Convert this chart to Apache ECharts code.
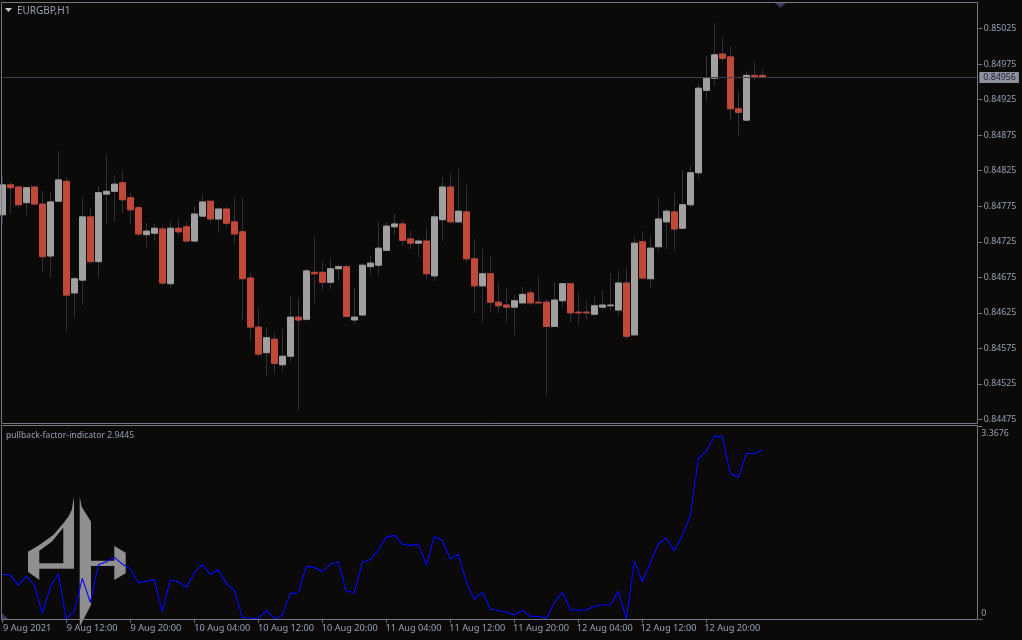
<!DOCTYPE html>
<html>
<head>
<meta charset="utf-8">
<style>html,body{margin:0;padding:0;background:#0c0a09}#c{width:1022px;height:640px}</style>
<script src="https://cdn.jsdelivr.net/npm/echarts@6/dist/echarts.min.js"></script>
</head>
<body>
<div id="c"></div>
<script>
const opens = [.84763,.84805,.84802,.84780,.84802,.84778,.84705,.84782,.84810,.84653,.84671,.84760,.84697,.84792,.84796,.84808,.84787,.84773,.84735,.84737,.84743,.84666,.84744,.84746,.84726,.84761,.84782,.84757,.84771,.84753,.84739,.84674,.84605,.84569,.84588,.84552,.84564,.84619,.84616,.84682,.84682,.84668,.84687,.84690,.84615,.84622,.84690,.84692,.84713,.84746,.84750,.84729,.84723,.84726,.84677,.84756,.84802,.84753,.84767,.84701,.84663,.84680,.84640,.84636,.84633,.84639,.84653,.84640,.84640,.84606,.84642,.84666,.84626,.84626,.84623,.84633,.84635,.84629,.84667,.84594,.84725,.84673,.84718,.84753,.84767,.84744,.84777,.84822,.84938,.84955,.84989,.84985,.84912,.84896,.84959,.84959];
const closes = [.84805,.84801,.84777,.84801,.84778,.84704,.84781,.84812,.84650,.84673,.84760,.84697,.84794,.84796,.84806,.84784,.84770,.84736,.84740,.84744,.84667,.84744,.84739,.84726,.84764,.84781,.84757,.84771,.84751,.84736,.84673,.84605,.84567,.84590,.84554,.84564,.84619,.84615,.84684,.84680,.84668,.84687,.84690,.84620,.84619,.84692,.84695,.84716,.84747,.84750,.84727,.84723,.84726,.84680,.84760,.84802,.84753,.84768,.84701,.84663,.84680,.84640,.84635,.84633,.84642,.84651,.84639,.84639,.84606,.84643,.84666,.84625,.84625,.84625,.84635,.84636,.84636,.84667,.84592,.84723,.84674,.84716,.84757,.84768,.84743,.84777,.84822,.84941,.84955,.84988,.84983,.84912,.84907,.84959,.84957,.84956];
const lows = [.84750,.84765,.84773,.84763,.84777,.84682,.84675,.84782,.84598,.84618,.84636,.84695,.84674,.84750,.84754,.84765,.84751,.84732,.84718,.84726,.84664,.84660,.84735,.84725,.84726,.84761,.84751,.84737,.84746,.84723,.84616,.84587,.84564,.84536,.84539,.84542,.84556,.84488,.84613,.84639,.84656,.84658,.84670,.84620,.84609,.84622,.84678,.84677,.84712,.84736,.84719,.84715,.84703,.84673,.84670,.84726,.84751,.84751,.84696,.84625,.84611,.84626,.84625,.84611,.84594,.84636,.84635,.84636,.84508,.84606,.84635,.84612,.84609,.84616,.84623,.84628,.84628,.84623,.84587,.84594,.84673,.84660,.84711,.84715,.84712,.84743,.84774,.84813,.84924,.84945,.84979,.84896,.84874,.84896,.84952,.84955];
const highs = [.84817,.84809,.84803,.84801,.84802,.84796,.84795,.84853,.84816,.84675,.84788,.84772,.84803,.84847,.84819,.84825,.84794,.84775,.84751,.84750,.84748,.84754,.84757,.84753,.84775,.84792,.84782,.84774,.84775,.84788,.84787,.84681,.84632,.84605,.84598,.84602,.84649,.84646,.84687,.84733,.84698,.84702,.84691,.84694,.84660,.84695,.84705,.84753,.84753,.84764,.84756,.84741,.84730,.84743,.84767,.84816,.84822,.84827,.84805,.84729,.84715,.84705,.84667,.84660,.84650,.84661,.84659,.84677,.84644,.84668,.84666,.84667,.84654,.84643,.84647,.84656,.84681,.84685,.84688,.84733,.84740,.84733,.84787,.84771,.84794,.84826,.84832,.84947,.84986,.85033,.85013,.85000,.84937,.84965,.84979,.84968];
const indicator = [0.776,0.764,0.584,0.747,0.590,0.095,0.561,0.788,0,0.130,0.706,0.287,0.945,0.997,1.073,0.956,0.869,0.631,0.654,0.683,0.124,0.677,0.648,0.549,0.805,0.951,0.770,0.857,0.619,0.491,0.026,0.014,0,0.148,0,0.060,0.444,0.456,0.916,0.898,0.828,0.956,0.991,0.485,0.456,0.991,1.032,1.201,1.427,1.457,1.305,1.282,1.305,0.939,1.439,1.369,1.044,1.125,0.642,0.340,0.462,0.171,0.142,0.119,0.066,0.148,0.043,0.043,0.008,0.282,0.462,0.154,0.154,0.154,0.218,0.241,0.241,0.479,0,1.003,0.648,0.980,1.311,1.410,1.189,1.457,1.800,2.800,2.928,3.190,3.173,2.544,2.469,2.888,2.888,2.9445];
const timeLabels = ["9 Aug 2021","9 Aug 12:00","9 Aug 20:00","10 Aug 04:00","10 Aug 12:00","10 Aug 20:00","11 Aug 04:00","11 Aug 12:00","11 Aug 20:00","12 Aug 04:00","12 Aug 12:00","12 Aug 20:00"];
const slotCount = 123, labelEvery = 8;
const categories = Array.from({length: slotCount}, (_, i) => (i % labelEvery === 0 && timeLabels[i / labelEvery]) || "");
const symbolText = "EURGBP,H1", indicatorText = "pullback-factor-indicator 2.9445";
const lastPrice = 0.84956, indMax = 3.3676;

const BG = "#0c0a09", FRAME = "#777784", TXT = "#93a0b5", UP = "#a0a0a0", DOWN = "#c0493a", WICK = "#2e3040", LOGO = "#8f8f8f";
const FONT = "Noto Sans";
const chart = echarts.init(document.getElementById("c"), null, {renderer: "canvas"});
const isTick = (i) => i % labelEvery === 0 && !!timeLabels[i / labelEvery];
chart.setOption({
  animation: false,
  backgroundColor: BG,
  textStyle: {fontFamily: FONT},
  grid: [
    {left: 2.33, right: 43.67, top: 3, height: 416.5},
    {left: 2.33, right: 43.67, top: 426, height: 192.8},
    {left: -0.67, right: 46.67, top: 426, height: 192.8}
  ],
  xAxis: [
    {type: "category", gridIndex: 0, data: categories, boundaryGap: false, axisLine: {show: false}, axisTick: {show: false}, axisLabel: {show: false}, splitLine: {show: false}},
    {type: "category", gridIndex: 1, data: categories, boundaryGap: false,
      axisLine: {show: false},
      axisTick: {show: true, length: 4, interval: (i) => isTick(i), lineStyle: {color: FRAME}},
      axisLabel: {show: false},
      splitLine: {show: false}},
    {type: "category", gridIndex: 2, data: categories, boundaryGap: false,
      axisLine: {show: false}, axisTick: {show: false}, splitLine: {show: false},
      axisLabel: {show: true, interval: (i) => isTick(i), align: "left", color: TXT, fontFamily: FONT, fontSize: 9.2, margin: 5.5, hideOverlap: false}}
  ],
  yAxis: [
    {type: "value", gridIndex: 0, position: "right", min: 0.84475, max: 0.850608, interval: 0.0005,
      axisLine: {show: false}, splitLine: {show: false},
      axisTick: {show: true, length: 4, lineStyle: {color: FRAME}, customValues: [0.84475,0.84525,0.84575,0.84625,0.84675,0.84725,0.84775,0.84825,0.84875,0.84925,0.84975,0.85025]},
      axisLabel: {color: TXT, fontFamily: FONT, fontSize: 8.8, margin: 5.5, padding: [2, 0, 0, 0], showMaxLabel: false, formatter: (v) => v.toFixed(5)}},
    {type: "value", gridIndex: 1, position: "right", min: 0, max: indMax, interval: indMax,
      axisLine: {show: false}, splitLine: {show: false},
      axisTick: {show: true, length: 4, lineStyle: {color: FRAME}},
      axisLabel: {color: TXT, fontFamily: FONT, fontSize: 8.8, margin: 3, padding: [3, 0, 1, 0], verticalAlignMinLabel: "bottom", verticalAlignMaxLabel: "top", formatter: (v) => v === 0 ? "0" : v.toFixed(4)}},
    {type: "value", gridIndex: 2, show: false}
  ],
  series: [
    {name: "wicks", type: "candlestick", xAxisIndex: 0, yAxisIndex: 0, barWidth: 6, silent: true, z: 2,
      itemStyle: {color: WICK, color0: WICK, borderColor: WICK, borderColor0: WICK, borderWidth: 1},
      data: opens.map((o, i) => [o, closes[i], lows[i], highs[i]])},
    {name: "EURGBP", type: "candlestick", xAxisIndex: 0, yAxisIndex: 0, barWidth: 6, silent: true, z: 3,
      itemStyle: {color: UP, color0: DOWN, borderColor: UP, borderColor0: DOWN, borderWidth: 1},
      data: opens.map((o, i) => [o, closes[i], Math.min(o, closes[i]), Math.max(o, closes[i])]),
      markLine: {silent: true, symbol: "none", animation: false, precision: 5,
        lineStyle: {color: "#3f3f4c", type: "solid", width: 1},
        label: {show: true, position: "end", distance: 1, formatter: lastPrice.toFixed(5), color: "#17202f", backgroundColor: "#9090a0", padding: [1, 3, 1, 4], fontFamily: FONT, fontSize: 8.8},
        data: [[{coord: [0, lastPrice]}, {coord: [slotCount - 1, lastPrice]}]]}},
    {name: "pullback-factor-indicator", type: "line", xAxisIndex: 1, yAxisIndex: 1, data: indicator, showSymbol: false, symbol: "none", smooth: false, silent: true, z: 5,
      lineStyle: {color: "#0000ff", width: 1.1}}
  ],
  graphic: {elements: [
    {type: "rect", z: 10, silent: true, shape: {x: 1.5, y: 2.5, width: 976, height: 421}, style: {fill: "none", stroke: FRAME, lineWidth: 1}},
    {type: "rect", z: 10, silent: true, shape: {x: 1.5, y: 425.5, width: 976, height: 194}, style: {fill: "none", stroke: FRAME, lineWidth: 1}},
    {type: "polygon", z: 11, silent: true, shape: {points: [[775, 3], [786, 3], [780.5, 8]]}, style: {fill: "#3a3a5e"}},
    {type: "polygon", z: 11, silent: true, shape: {points: [[2, 613], [8, 619], [2, 619]]}, style: {fill: "#3a3a5e"}},
    {type: "polygon", z: 11, silent: true, shape: {points: [[5, 8], [12, 8], [8.5, 12]]}, style: {fill: "#c8c8c8"}},
    {type: "text", z: 11, silent: true, x: 17, y: 6, style: {text: symbolText, fill: TXT, font: "10px '" + FONT + "'"}},
    {type: "text", z: 11, silent: true, x: 6, y: 431, style: {text: indicatorText, fill: TXT, font: "8.6px '" + FONT + "'"}},
    {type: "polygon", z: 1, silent: true, shape: {points: [[74,496.7],[71.7,510],[68.3,516.7],[63.3,523.3],[53.3,535],[39.3,545],[28,551.7],[28,571.7],[39.3,580],[39.3,568.7],[74,568.7]]}, style: {fill: LOGO}},
    {type: "polygon", z: 1, silent: true, shape: {points: [[39.3,550.7],[51.7,541.7],[63.3,527.7],[63.3,563.3],[39.3,563.3]]}, style: {fill: BG}},
    {type: "polygon", z: 1, silent: true, shape: {points: [[79.7,496.7],[81.7,506.7],[91,521.7],[91,560.7],[114.3,560.7],[114.3,546],[125.7,552.7],[125.7,573.3],[114.3,580],[114.3,566],[91,566],[91,605],[79.7,626.7]]}, style: {fill: LOGO}}
  ]}
});
</script>
</body>
</html>
